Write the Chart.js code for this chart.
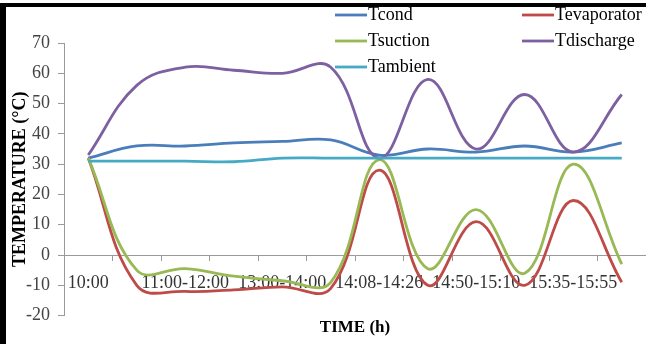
<!DOCTYPE html>
<html>
<head>
<meta charset="utf-8">
<script src="https://cdn.jsdelivr.net/npm/chart.js@4/dist/chart.umd.min.js"></script>
<style>
  html, body { margin: 0; padding: 0; background: #fff; }
  #wrap { position: relative; width: 646px; height: 344px; overflow: hidden; }
  #chart { position: absolute; left: 0; top: 0; }
  .bar { position: absolute; background: #000; }
</style>
</head>
<body>
<div id="wrap">
  <canvas id="chart" width="646" height="344"></canvas>
  <div class="bar" style="left:0;top:3px;width:646px;height:4px"></div>
  <div class="bar" style="left:0;top:3px;width:6px;height:341px"></div>
</div>
<script>
// categorias (só as pares têm rótulo visível no gráfico original)
var timeLabels = ['10:00', '', '11:00-12:00', '', '13:00-14:00', '', '14:08-14:26', '', '14:50-15:10', '', '15:35-15:55', ''];

var seriesNames = ['Tcond', 'Tevaporator', 'Tsuction', 'Tdischarge', 'Tambient'];
var tCond       = [32, 36, 36, 37, 37.5, 38, 33, 35, 34, 36, 34, 37];
var tEvaporator = [32, -10, -12, -11.5, -10.5, -11, 28, -10, 11, -10, 18, -9];
var tSuction    = [32, -5, -4.5, -7, -8.5, -9, 31.5, -4.5, 15, -6, 30, -3];
var tDischarge  = [33, 56, 62, 61, 60, 62, 32, 58, 35, 53, 34, 53];
var tAmbient    = [31, 31, 31, 30.8, 32, 32, 32, 32, 32, 32, 32, 32];

var yTicks = [-20, -10, 0, 10, 20, 30, 40, 50, 60, 70];

var seriesColors = ['#4A7EBB', '#BE4B48', '#98B954', '#7D60A0', '#46AAC5'];

var serif = "'Liberation Serif', 'Times New Roman', serif";

// legenda desenhada à mão, por cima da área do gráfico (como no Excel)
var legendPlugin = {
    id: 'cornerLegend',
    afterDatasetsDraw: function(chart) {
        var ctx = chart.ctx;
        ctx.save();
        ctx.font = '18px ' + serif;
        ctx.textBaseline = 'middle';
        ctx.textAlign = 'left';
        chart.data.datasets.forEach(function(ds, i) {
            var col = i % 2, row = Math.floor(i / 2);
            var x = col === 0 ? 335 : 522;
            var y = 15 + row * 26;
            ctx.strokeStyle = ds.borderColor;
            ctx.lineWidth = 2.8;
            ctx.beginPath();
            ctx.moveTo(x, y);
            ctx.lineTo(x + 32, y);
            ctx.stroke();
            ctx.fillStyle = '#000';
            ctx.fillText(ds.label, x + 33, y);
        });
        ctx.restore();
    }
};

var allSeries = [tCond, tEvaporator, tSuction, tDischarge, tAmbient];
var datasets = allSeries.map(function(values, i) {
    return {
        label: seriesNames[i],
        data: values,
        borderColor: seriesColors[i],
        backgroundColor: seriesColors[i],
        borderWidth: 2.8,
        pointRadius: 0,
        tension: 0.4,
        fill: false,
        order: allSeries.length - i
    };
});

var ctx = document.getElementById('chart').getContext('2d');
var chart = new Chart(ctx, {
    type: 'line',
    data: { labels: timeLabels, datasets: datasets },
    options: {
        responsive: false,
        animation: false,
        layout: { padding: { left: 6, top: 43, right: 0, bottom: 0 } },
        plugins: {
            legend: { display: false },
            tooltip: { enabled: false },
            title: {
                display: true,
                text: 'TIME (h)',
                position: 'bottom',
                fullSize: false,
                color: '#000',
                font: { family: serif, size: 17, weight: 'bold', lineHeight: 1.2 },
                padding: { top: 2, bottom: 6 }
            }
        },
        scales: {
            x: {
                position: { y: 0 },
                offset: true,
                grid: { display: true, drawOnChartArea: false, offset: true, tickLength: 5, color: '#9a9a9a' },
                border: { display: true, color: '#9a9a9a', width: 1 },
                ticks: {
                    autoSkip: false,
                    maxRotation: 0,
                    padding: 12,
                    color: '#333',
                    font: { family: serif, size: 18 }
                }
            },
            y: {
                min: yTicks[0],
                max: yTicks[yTicks.length - 1],
                afterBuildTicks: function(scale) {
                    scale.ticks = yTicks.map(function(v) { return { value: v }; });
                },
                afterFit: function(scale) { scale.width = 58; },
                grid: { display: true, drawOnChartArea: false, tickLength: 6, color: '#9a9a9a' },
                border: { display: true, color: '#9a9a9a', width: 1 },
                ticks: {
                    padding: 8,
                    color: '#444',
                    font: { family: serif, size: 18 }
                },
                title: {
                    display: true,
                    text: 'TEMPERATURE (°C)',
                    color: '#000',
                    font: { family: serif, size: 18, weight: 'bold', lineHeight: 1 },
                    padding: { top: 5, bottom: 0 }
                }
            }
        }
    },
    plugins: [legendPlugin]
});
</script>
</body>
</html>
